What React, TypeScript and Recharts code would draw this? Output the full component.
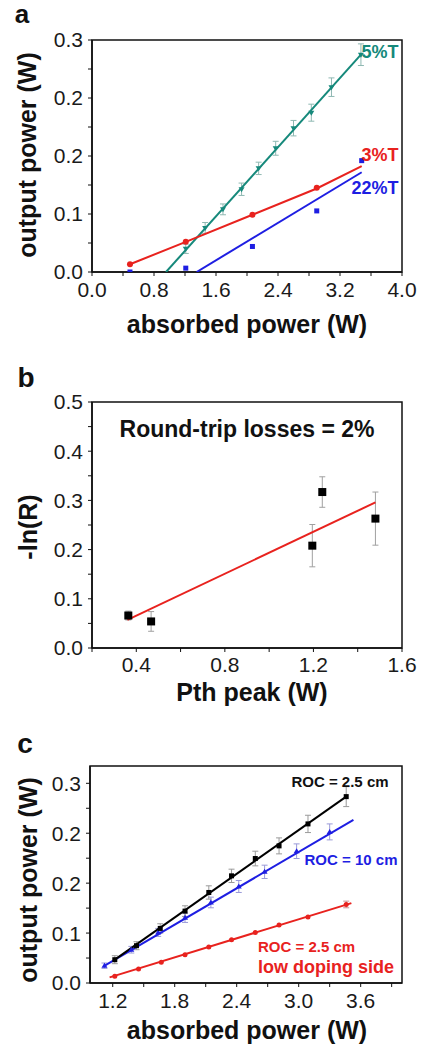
import React from 'react'
import { ScatterChart, Scatter, XAxis, YAxis, ErrorBar, ReferenceArea } from 'recharts'

const FONT = '"Liberation Sans", Arial, Helvetica, sans-serif'

// ---- panel a: output power vs absorbed power, three couplers ----
const aXTicks = [0, 0.4, 0.8, 1.2, 1.6, 2.0, 2.4, 2.8, 3.2, 3.6, 4.0]
const aXTickLabels = ['0.0', '', '0.8', '', '1.6', '', '2.4', '', '3.2', '', '4.0']
const aYTicks = [0, 0.0375, 0.075, 0.1125, 0.15, 0.1875, 0.225, 0.2625, 0.3]
const aYTickLabels = ['0.0', '', '0.1', '', '0.2', '', '0.2', '', '0.3']

const t5Points = [
  { x: 1.21, y: 0.030, err: 0.006 },
  { x: 1.46, y: 0.057, err: 0.007 },
  { x: 1.69, y: 0.081, err: 0.007 },
  { x: 1.93, y: 0.107, err: 0.008 },
  { x: 2.15, y: 0.134, err: 0.008 },
  { x: 2.37, y: 0.160, err: 0.009 },
  { x: 2.60, y: 0.186, err: 0.010 },
  { x: 2.83, y: 0.206, err: 0.011 },
  { x: 3.09, y: 0.239, err: 0.012 },
  { x: 3.47, y: 0.281, err: 0.014 },
]
const t5Fit = [{ x: 0.955, y: 0 }, { x: 3.47, y: 0.281 }]

const t3Points = [
  { x: 0.49, y: 0.010 },
  { x: 1.21, y: 0.039 },
  { x: 2.07, y: 0.074 },
  { x: 2.90, y: 0.109 },
]
const t3Fit = [
  { x: 0.49, y: 0.010 },
  { x: 1.21, y: 0.039 },
  { x: 2.07, y: 0.074 },
  { x: 2.90, y: 0.108 },
  { x: 3.48, y: 0.137 },
]

const t22Points = [
  { x: 0.49, y: 0.0 },
  { x: 1.21, y: 0.005 },
  { x: 2.07, y: 0.033 },
  { x: 2.90, y: 0.079 },
  { x: 3.48, y: 0.144 },
]
const t22Fit = [{ x: 1.35, y: 0 }, { x: 3.48, y: 0.129 }]

// ---- panel b: -ln(R) vs threshold peak power ----
const bXTicks = [0.2, 0.4, 0.6, 0.8, 1.0, 1.2, 1.4, 1.6]
const bXTickLabels = ['', '0.4', '', '0.8', '', '1.2', '', '1.6']
const bYTicks = [0, 0.05, 0.1, 0.15, 0.2, 0.25, 0.3, 0.35, 0.4, 0.45, 0.5]
const bYTickLabels = ['0.0', '', '0.1', '', '0.2', '', '0.3', '', '0.4', '', '0.5']

const lossPoints = [
  { x: 0.364, y: 0.066, err: 0.009 },
  { x: 0.467, y: 0.054, err: 0.02 },
  { x: 1.195, y: 0.208, err: 0.043 },
  { x: 1.24, y: 0.317, err: 0.031 },
  { x: 1.48, y: 0.263, err: 0.054 },
]
const lossFit = [{ x: 0.36, y: 0.057 }, { x: 1.48, y: 0.296 }]

// ---- panel c: output power vs absorbed power, mirror ROC ----
const cXTicks = [1.2, 1.5, 1.8, 2.1, 2.4, 2.7, 3.0, 3.3, 3.6, 3.9]
const cXTickLabels = ['1.2', '', '1.8', '', '2.4', '', '3.0', '', '3.6', '']
const cYTicks = aYTicks
const cYTickLabels = aYTickLabels

const roc25Points = [
  { x: 1.22, y: 0.035, err: 0.006 },
  { x: 1.43, y: 0.056, err: 0.006 },
  { x: 1.66, y: 0.082, err: 0.007 },
  { x: 1.90, y: 0.108, err: 0.008 },
  { x: 2.13, y: 0.136, err: 0.010 },
  { x: 2.35, y: 0.161, err: 0.010 },
  { x: 2.58, y: 0.187, err: 0.011 },
  { x: 2.81, y: 0.206, err: 0.012 },
  { x: 3.09, y: 0.239, err: 0.013 },
  { x: 3.46, y: 0.280, err: 0.015 },
]
const roc25Fit = [{ x: 1.21, y: 0.034 }, { x: 3.46, y: 0.280 }]

const roc10Points = [
  { x: 1.12, y: 0.026, err: 0.004 },
  { x: 1.38, y: 0.050, err: 0.005 },
  { x: 1.64, y: 0.076, err: 0.006 },
  { x: 1.90, y: 0.098, err: 0.007 },
  { x: 2.15, y: 0.121, err: 0.008 },
  { x: 2.42, y: 0.145, err: 0.009 },
  { x: 2.67, y: 0.167, err: 0.010 },
  { x: 2.98, y: 0.198, err: 0.011 },
  { x: 3.30, y: 0.227, err: 0.012 },
]
const roc10Fit = [{ x: 1.11, y: 0.025 }, { x: 3.53, y: 0.245 }]

const lowDopPoints = [
  { x: 1.22, y: 0.010 },
  { x: 1.45, y: 0.021 },
  { x: 1.67, y: 0.031 },
  { x: 1.90, y: 0.0425 },
  { x: 2.13, y: 0.054 },
  { x: 2.35, y: 0.065 },
  { x: 2.58, y: 0.076 },
  { x: 2.81, y: 0.087 },
  { x: 3.09, y: 0.099 },
  { x: 3.46, y: 0.118, err: 0.005 },
]
const lowDopFit = [{ x: 1.17, y: 0.0085 }, { x: 3.51, y: 0.120 }]

const TEAL = '#16897b'
const RED = '#e8221e'
const BLUE = '#1e1ee2'

const labelFor = (ticks: number[], labels: string[]) => (v: number) => labels[ticks.indexOf(v)] ?? ''

const tickStyle = { fontSize: 21, fill: '#1a1a1a', fontFamily: FONT }

const noDot = () => <g />
const square = (s: number) => (p: any) => (
  <rect x={p.cx - s / 2} y={p.cy - s / 2} width={s} height={s} fill={p.fill} />
)
const circle = (r: number) => (p: any) => <circle cx={p.cx} cy={p.cy} r={r} fill={p.fill} />
const triDown = (s: number) => (p: any) => (
  <polygon
    points={`${p.cx - s / 2},${p.cy - s / 3} ${p.cx + s / 2},${p.cy - s / 3} ${p.cx},${p.cy + s / 2}`}
    fill={p.fill}
  />
)
const triUp = (s: number) => (p: any) => (
  <polygon
    points={`${p.cx - s / 2},${p.cy + s / 3} ${p.cx + s / 2},${p.cy + s / 3} ${p.cx},${p.cy - s / 2}`}
    fill={p.fill}
  />
)

function Txt({ x, y, size, color = '#111', rotate = false, left = false, children }: any) {
  return (
    <div
      style={{
        position: 'absolute',
        left: x,
        top: y,
        transform: `translate(${left ? '0' : '-50%'}, -50%)${rotate ? ' rotate(-90deg)' : ''}`,
        fontFamily: FONT,
        fontWeight: 700,
        fontSize: size,
        color,
        lineHeight: 1,
        whiteSpace: 'nowrap',
      }}
    >
      {children}
    </div>
  )
}

function axes(xd: number[], xt: number[], xl: string[], yd: number[], yt: number[], yl: string[], xMargin: number) {
  return [
    <XAxis
      key="x"
      type="number"
      dataKey="x"
      domain={xd}
      ticks={xt}
      interval={0}
      allowDataOverflow
      tickFormatter={labelFor(xt, xl)}
      tick={tickStyle}
      tickSize={4}
      tickMargin={xMargin}
      height={30}
      axisLine={{ stroke: '#111', strokeWidth: 1.5 }}
      tickLine={{ stroke: '#111' }}
    />,
    <YAxis
      key="y"
      type="number"
      dataKey="y"
      domain={yd}
      ticks={yt}
      interval={0}
      allowDataOverflow
      tickFormatter={labelFor(yt, yl)}
      tick={tickStyle}
      tickSize={4}
      tickMargin={5}
      width={60}
      axisLine={{ stroke: '#111', strokeWidth: 1.5 }}
      tickLine={{ stroke: '#111' }}
    />,
    <ReferenceArea
      key="frame"
      x1={xd[0]}
      x2={xd[1]}
      y1={yd[0]}
      y2={yd[1]}
      fill="none"
      stroke="#111"
      strokeWidth={1.5}
    />,
  ]
}

export default function App() {
  return (
    <div style={{ position: 'absolute', left: 0, top: 0, width: 422, height: 1045, background: '#fff' }}>
      {/* panel a */}
      <div style={{ position: 'absolute', left: 0, top: 0 }}>
        <ScatterChart width={422} height={340} margin={{ top: 40, right: 20, bottom: 38, left: 32 }}>
          {axes([0, 4], aXTicks, aXTickLabels, [0, 0.3], aYTicks, aYTickLabels, 6)}
          <Scatter data={t5Fit} line={{ stroke: TEAL, strokeWidth: 2 }} shape={noDot} isAnimationActive={false} />
          <Scatter data={t3Fit} line={{ stroke: RED, strokeWidth: 2 }} shape={noDot} isAnimationActive={false} />
          <Scatter data={t22Fit} line={{ stroke: BLUE, strokeWidth: 2 }} shape={noDot} isAnimationActive={false} />
          <Scatter data={t5Points} fill={TEAL} shape={triDown(6)} isAnimationActive={false}>
            <ErrorBar dataKey="err" direction="y" width={3} stroke="#8fb8b2" strokeWidth={1} />
          </Scatter>
          <Scatter data={t3Points} fill={RED} shape={circle(3)} isAnimationActive={false} />
          <Scatter data={t22Points} fill={BLUE} shape={square(5)} isAnimationActive={false} />
        </ScatterChart>
      </div>
      <Txt x={22} y={14} size={26}>a</Txt>
      <Txt x={27} y={155} size={25} rotate>output power (W)</Txt>
      <Txt x={247} y={324} size={25}>absorbed power (W)</Txt>
      <Txt x={380} y={52} size={18} color={TEAL}>5%T</Txt>
      <Txt x={380} y={155} size={18} color={RED}>3%T</Txt>
      <Txt x={375} y={188} size={18} color={BLUE}>22%T</Txt>

      {/* panel b */}
      <div style={{ position: 'absolute', left: 0, top: 345 }}>
        <ScatterChart width={422} height={360} margin={{ top: 57, right: 20, bottom: 27, left: 32 }}>
          {axes([0.2, 1.6], bXTicks, bXTickLabels, [0, 0.5], bYTicks, bYTickLabels, 5)}
          <Scatter data={lossFit} line={{ stroke: RED, strokeWidth: 2 }} shape={noDot} isAnimationActive={false} />
          <Scatter data={lossPoints} fill="#000" shape={square(8)} isAnimationActive={false}>
            <ErrorBar dataKey="err" direction="y" width={3} stroke="#a0a0a0" strokeWidth={1} />
          </Scatter>
        </ScatterChart>
      </div>
      <Txt x={26} y={378} size={28}>b</Txt>
      <Txt x={28} y={527} size={25} rotate>-ln(R)</Txt>
      <Txt x={252} y={692} size={25}>Pth peak (W)</Txt>
      <Txt x={247} y={429} size={23}>Round-trip losses = 2%</Txt>

      {/* panel c */}
      <div style={{ position: 'absolute', left: 0, top: 705 }}>
        <ScatterChart width={422} height={340} margin={{ top: 61, right: 20, bottom: 32, left: 30 }}>
          {axes([0.98, 4.0], cXTicks, cXTickLabels, [0, 0.326], cYTicks, cYTickLabels, 6)}
          <Scatter data={lowDopFit} line={{ stroke: RED, strokeWidth: 2 }} shape={noDot} isAnimationActive={false} />
          <Scatter data={roc10Fit} line={{ stroke: BLUE, strokeWidth: 2 }} shape={noDot} isAnimationActive={false} />
          <Scatter data={roc25Fit} line={{ stroke: '#000', strokeWidth: 2 }} shape={noDot} isAnimationActive={false} />
          <Scatter data={lowDopPoints} fill={RED} shape={circle(2.5)} isAnimationActive={false}>
            <ErrorBar dataKey="err" direction="y" width={3} stroke="#c89090" strokeWidth={1} />
          </Scatter>
          <Scatter data={roc10Points} fill={BLUE} shape={triUp(6)} isAnimationActive={false}>
            <ErrorBar dataKey="err" direction="y" width={3} stroke="#9a9ad8" strokeWidth={1} />
          </Scatter>
          <Scatter data={roc25Points} fill="#000" shape={square(5)} isAnimationActive={false}>
            <ErrorBar dataKey="err" direction="y" width={3} stroke="#9a9a9a" strokeWidth={1} />
          </Scatter>
        </ScatterChart>
      </div>
      <Txt x={25} y={744} size={28}>c</Txt>
      <Txt x={28} y={880} size={25} rotate>output power (W)</Txt>
      <Txt x={247} y={1030} size={25}>absorbed power (W)</Txt>
      <Txt x={340} y={781} size={15}>ROC = 2.5 cm</Txt>
      <Txt x={351} y={859} size={15} color={BLUE}>ROC = 10 cm</Txt>
      <Txt x={258} y={946} size={15} color={RED} left>ROC = 2.5 cm</Txt>
      <Txt x={258} y={967} size={18} color={RED} left>low doping side</Txt>
    </div>
  )
}
